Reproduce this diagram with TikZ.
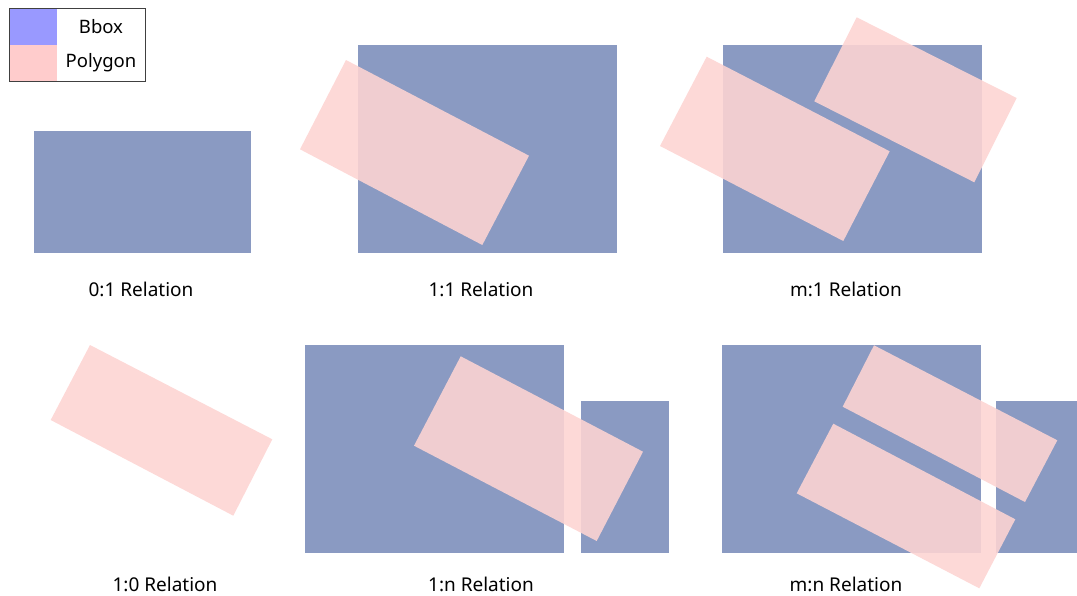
\documentclass[tikz,border=0pt]{standalone}
\usepackage{fontspec}
\setmainfont{Noto Sans}
\definecolor{bboxcol}{RGB}{138,154,194}
\definecolor{polycol}{RGB}{253,212,210}
\definecolor{legblue}{RGB}{153,153,255}
\definecolor{legpink}{RGB}{255,204,204}
\definecolor{legline}{RGB}{64,64,64}
\begin{document}
\begin{tikzpicture}[x=1pt,y=-1pt,
  bbox/.style={fill=bboxcol},
  poly/.style={fill=polycol,fill opacity=0.89},
  lbl/.style={font=\fontsize{19}{22}\selectfont,text=black,inner sep=0pt},
  leglbl/.style={font=\fontsize{18.5}{22}\selectfont,text=black,inner sep=0pt}]
\useasboundingbox (0,0) rectangle (1077,595);
% legend
\fill[legblue] (9,8) rectangle (57,44.5);
\fill[legpink] (9,44.5) rectangle (57,81);
\draw[legline,line width=0.9pt] (9,8) rectangle (145,81);
\node[leglbl] (lgb) at (101,27) {Bbox};
\node[leglbl] (lgp) at (101,63) {Polygon};
% panel 0:1
\fill[bbox] (34,131) rectangle (251,252.5);
\node[lbl] (l01) at (141,289.5) {0:1 Relation};
% panel 1:1
\fill[bbox] (358,45) rectangle (617,252.5);
\fill[poly] (346,60) -- (529,155.7) -- (482.3,245) -- (300,149.3) -- cycle;
\node[lbl] (l11) at (481,289.5) {1:1 Relation};
% panel m:1
\fill[bbox] (723,45) rectangle (982,252.5);
\fill[poly] (706.7,56.7) -- (889.7,151.3) -- (843.3,241) -- (660,146) -- cycle;
\fill[poly] (856.7,17.3) -- (1016.7,98) -- (974.3,182.3) -- (814.3,101.3) -- cycle;
\node[lbl] (lm1) at (846,289.5) {m:1 Relation};
% panel 1:0
\fill[poly] (90,345) -- (272.3,439.3) -- (233.3,515.7) -- (50.7,420) -- cycle;
\node[lbl] (l10) at (165,584.5) {1:0 Relation};
% panel 1:n
\fill[bbox] (305,345) rectangle (564,552.7);
\fill[bbox] (581,401) rectangle (669,552.7);
\fill[poly] (460.7,356.3) -- (643,451.7) -- (596.7,541) -- (414,445.7) -- cycle;
\node[lbl] (l1n) at (481,584.5) {1:n Relation};
% panel m:n
\fill[bbox] (722,345) rectangle (981,552.7);
\fill[bbox] (996,401) rectangle (1077,552.7);
\fill[poly] (874,345.3) -- (1057.3,440.3) -- (1025,502) -- (842.7,406.7) -- cycle;
\fill[poly] (833.3,423.7) -- (1015.3,519.3) -- (979.3,588.3) -- (796.7,493.3) -- cycle;
\node[lbl] (lmn) at (846,584.5) {m:n Relation};
\end{tikzpicture}
\end{document}
